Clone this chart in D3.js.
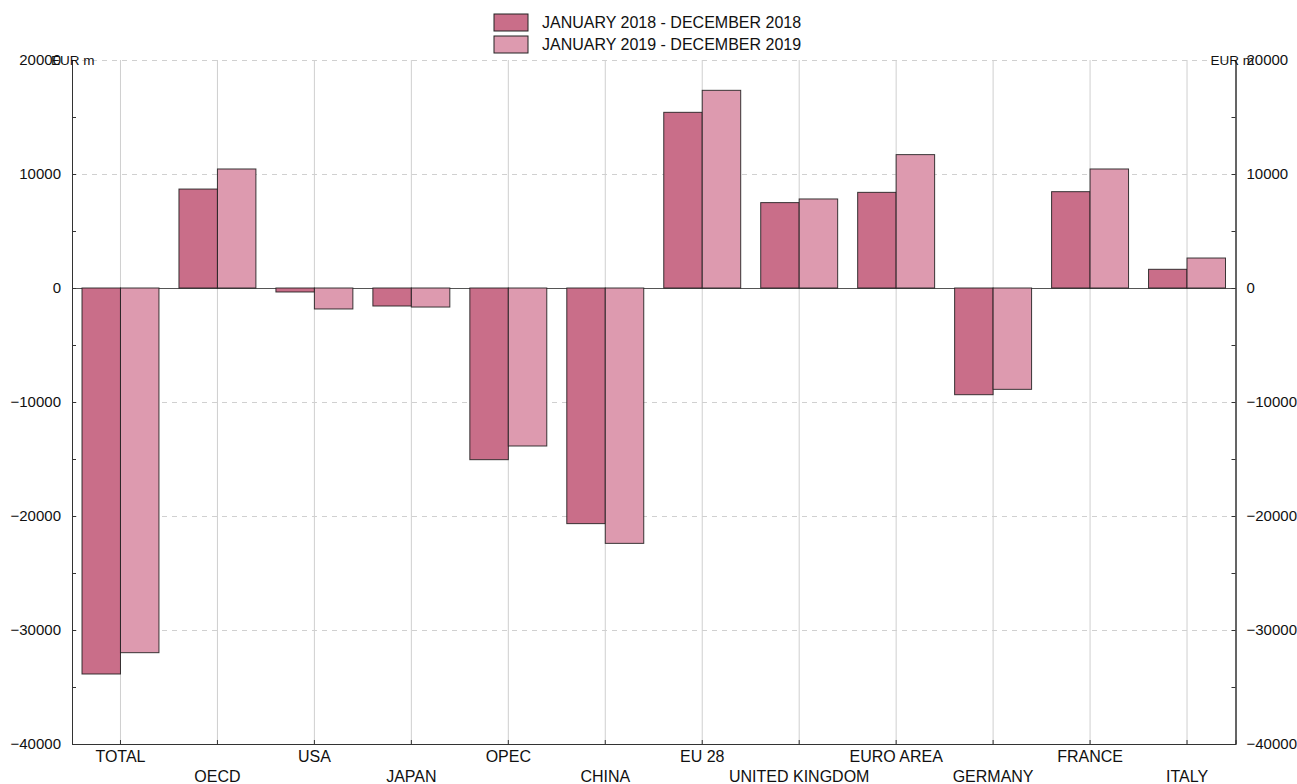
<!DOCTYPE html>
<html>
<head>
<meta charset="utf-8">
<script src="https://cdn.jsdelivr.net/npm/d3@7"></script>
<style>
  body { margin: 0; background: #fff; }
  svg { font-family: "Liberation Sans", Arial, sans-serif; }
</style>
</head>
<body>
<div id="chart"></div>
<script>
// Data
const categories = ["TOTAL", "OECD", "USA", "JAPAN", "OPEC", "CHINA", "EU 28",
  "UNITED KINGDOM", "EURO AREA", "GERMANY", "FRANCE", "ITALY"];
const seriesNames = ["JANUARY 2018 - DECEMBER 2018", "JANUARY 2019 - DECEMBER 2019"];
const values2018 = [-33860, 8680, -350, -1580, -15060, -20670, 15410, 7490, 8390, -9360, 8450, 1640];
const values2019 = [-31990, 10440, -1840, -1670, -13860, -22400, 17340, 7810, 11700, -8890, 10440, 2630];
const majorTicks = [-40000, -30000, -20000, -10000, 0, 10000, 20000];
const minorTicks = d3.range(-40000, 20001, 5000);

const W = 1297, H = 784;
const M = { left: 72, right: 1235.5, top: 60, bottom: 744 };
const colors = ["#c96e89", "#dd9aaf"];

const svg = d3.select("#chart").append("svg")
  .attr("width", W).attr("height", H);

const x = d3.scaleBand().domain(categories).range([M.left, M.right]);
const y = d3.scaleLinear().domain([-40000, 20000]).range([M.bottom, M.top]);
const xs = d3.scaleBand().domain([0, 1]).range([0, x.bandwidth()]).paddingOuter(0.26);

// vertical grid at category centres
svg.append("g").selectAll("line")
  .data(categories)
  .join("line")
    .attr("x1", d => x(d) + x.bandwidth() / 2)
    .attr("x2", d => x(d) + x.bandwidth() / 2)
    .attr("y1", M.top).attr("y2", M.bottom)
    .attr("stroke", "#cfcfcf").attr("stroke-width", 1);

// horizontal dashed grid
svg.append("g").selectAll("line")
  .data(majorTicks.filter(d => d !== 0 && d !== -40000))
  .join("line")
    .attr("x1", M.left).attr("x2", M.right)
    .attr("y1", d => Math.round(y(d)) + 0.5).attr("y2", d => Math.round(y(d)) + 0.5)
    .attr("stroke", "#d0d0d0").attr("stroke-dasharray", "5,5");

// zero line
svg.append("line")
  .attr("x1", M.left).attr("x2", M.right)
  .attr("y1", Math.round(y(0)) + 0.5).attr("y2", Math.round(y(0)) + 0.5)
  .attr("stroke", "#555");

// bars
const groups = svg.append("g").selectAll("g")
  .data(categories.map((c, i) => ({ c, v: [values2018[i], values2019[i]] })))
  .join("g")
    .attr("transform", d => `translate(${x(d.c)},0)`);

groups.selectAll("rect")
  .data(d => d.v.map((v, k) => ({ v, k })))
  .join("rect")
    .attr("x", d => xs(d.k))
    .attr("width", xs.bandwidth())
    .attr("y", d => y(Math.max(0, d.v)))
    .attr("height", d => Math.abs(y(d.v) - y(0)))
    .attr("fill", d => colors[d.k])
    .attr("stroke", "#1a1a1a")
    .attr("stroke-opacity", 0.85)
    .attr("stroke-width", 1);

// axes
const axL = svg.append("g").attr("transform", `translate(${M.left},0)`);
axL.call(d3.axisLeft(y).tickValues(minorTicks).tickSize(-4).tickFormat(""));
axL.append("g").call(d3.axisLeft(y).tickValues(majorTicks).tickSize(0).tickPadding(11)
  .tickFormat(d3.format("d")));

const axR = svg.append("g").attr("transform", `translate(${M.right},0)`);
axR.call(d3.axisRight(y).tickValues(minorTicks).tickSize(-4).tickFormat(""));
axR.append("g").call(d3.axisRight(y).tickValues(majorTicks).tickSize(0).tickPadding(11)
  .tickFormat(d3.format("d")));

const axB = svg.append("g").attr("transform", `translate(0,${M.bottom})`);
axB.call(d3.axisBottom(x).tickSize(-4).tickFormat(""));

[axL, axR, axB].forEach(a => {
  a.selectAll(".domain").attr("stroke", "#333");
  a.selectAll("line").attr("stroke", "#333");
  a.selectAll("text").attr("font-size", 15).attr("fill", "#111")
    .attr("font-family", "Liberation Sans, Arial, sans-serif");
});

// x labels, staggered
svg.append("g").selectAll("text")
  .data(categories)
  .join("text")
    .attr("x", d => x(d) + x.bandwidth() / 2)
    .attr("y", (d, i) => i % 2 === 0 ? 762 : 782)
    .attr("text-anchor", "middle")
    .attr("font-size", 16)
    .attr("fill", "#111")
    .text(d => d);

// unit labels
svg.append("text").attr("x", 51).attr("y", 65).attr("font-size", 13.5).attr("fill", "#111").text("EUR m");
svg.append("text").attr("x", 1254).attr("y", 65).attr("text-anchor", "end")
  .attr("font-size", 13.5).attr("fill", "#111").text("EUR m");

// legend
const legend = svg.append("g").attr("transform", "translate(494,14)");
seriesNames.forEach((name, i) => {
  const g = legend.append("g").attr("transform", `translate(0,${i * 22})`);
  g.append("rect").attr("width", 34).attr("height", 17)
    .attr("fill", colors[i]).attr("stroke", "#222");
  g.append("text").attr("x", 48).attr("y", 14).attr("font-size", 16)
    .attr("fill", "#111").text(name);
});
</script>
</body>
</html>
